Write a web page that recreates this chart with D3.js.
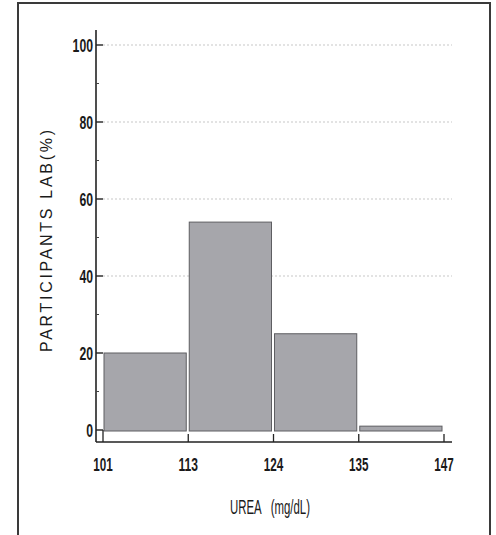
<!DOCTYPE html>
<html>
<head>
<meta charset="utf-8">
<script src="https://cdn.jsdelivr.net/npm/d3@7"></script>
<style>
  html, body { margin: 0; padding: 0; background: #fff; }
  svg { display: block; }
  text { font-family: "Liberation Sans Narrow", "Liberation Sans", Arial, sans-serif; fill: #1a1a1a; }
</style>
</head>
<body>
<div id="chart"></div>
<script>
// ---- data ----
const binEdges = ["101", "113", "124", "135", "147"];
const percentages = [20, 54, 25, 1];
const yTicks = [0, 20, 40, 60, 80, 100];
const yMinorTicks = [10, 30, 50, 70, 90];
const gridValues = [40, 60, 80, 100];
const xTitle = "UREA   (mg/dL)";
const yTitle = "PARTICIPANTS LAB(%)";

const W = 496, H = 535;
const svg = d3.select("#chart").append("svg").attr("width", W).attr("height", H);

// frame (open at bottom)
svg.append("path")
  .attr("d", "M18,540 L18,3 L490,3 L490,540")
  .attr("fill", "none").attr("stroke", "#3a3a3a").attr("stroke-width", 2);

const x = d3.scaleLinear().domain([0, binEdges.length - 1]).range([103, 444]);
const y = d3.scaleLinear().domain([0, 100]).range([430, 45]);
const axisX = 96, axisY = 442;

// gridlines
svg.append("g").selectAll("line").data(gridValues).join("line")
  .attr("x1", 103).attr("x2", 452)
  .attr("y1", d => y(d)).attr("y2", d => y(d))
  .attr("stroke", "#c8c8c8").attr("stroke-width", 1.2)
  .attr("stroke-dasharray", "2,2");

// bars
svg.append("g").selectAll("rect").data(percentages).join("rect")
  .attr("x", (d, i) => x(i) + 1)
  .attr("width", (d, i) => x(i + 1) - x(i) - 3)
  .attr("y", d => y(d))
  .attr("height", d => y(0) - y(d) + 1)
  .attr("fill", "#a6a6ab")
  .attr("stroke", "#5e5e62").attr("stroke-width", 1);

// y axis
const gy = svg.append("g");
gy.append("line").attr("x1", axisX).attr("x2", axisX).attr("y1", 30).attr("y2", axisY)
  .attr("stroke", "#222").attr("stroke-width", 1.6);
gy.selectAll("line.major").data(yTicks).join("line").attr("class", "major")
  .attr("x1", axisX).attr("x2", axisX + 7)
  .attr("y1", d => y(d)).attr("y2", d => y(d))
  .attr("stroke", "#222").attr("stroke-width", 1.4);
gy.selectAll("line.minor").data(yMinorTicks).join("line").attr("class", "minor")
  .attr("x1", axisX).attr("x2", axisX + 3)
  .attr("y1", d => y(d)).attr("y2", d => y(d))
  .attr("stroke", "#444").attr("stroke-width", 1);
gy.selectAll("text").data(yTicks).join("text")
  .attr("x", 93).attr("y", d => y(d) + 6.5)
  .attr("text-anchor", "end")
  .attr("font-size", 18)
  .attr("font-weight", "bold")
  .attr("textLength", d => String(d).length * 6.8)
  .attr("lengthAdjust", "spacingAndGlyphs")
  .text(d => d);

// x axis
const gx = svg.append("g");
gx.append("line").attr("x1", axisX).attr("x2", 452).attr("y1", axisY).attr("y2", axisY)
  .attr("stroke", "#222").attr("stroke-width", 1.6);
gx.selectAll("line.tick").data(binEdges).join("line").attr("class", "tick")
  .attr("x1", (d, i) => x(i)).attr("x2", (d, i) => x(i))
  .attr("y1", axisY).attr("y2", (d, i) => i === 0 ? y(0) : axisY - 8)
  .attr("stroke", "#222").attr("stroke-width", 1.3);
gx.selectAll("text").data(binEdges).join("text")
  .attr("x", (d, i) => x(i)).attr("y", 471)
  .attr("text-anchor", "middle")
  .attr("font-size", 19)
  .attr("font-weight", "bold")
  .attr("textLength", d => d.length * 6.5)
  .attr("lengthAdjust", "spacingAndGlyphs")
  .text(d => d);

// axis titles
svg.append("text")
  .attr("x", 270).attr("y", 514)
  .attr("text-anchor", "middle")
  .attr("font-size", 21)
  .attr("textLength", 80)
  .attr("lengthAdjust", "spacingAndGlyphs")
  .style("white-space", "pre")
  .text(xTitle);

svg.append("text")
  .attr("transform", "translate(52,241) rotate(-90)")
  .attr("text-anchor", "middle")
  .attr("font-size", 16)
  .attr("font-family", "'Liberation Sans', Arial, sans-serif")
  .attr("textLength", 222)
  .attr("lengthAdjust", "spacing")
  .text(yTitle);
</script>
</body>
</html>
